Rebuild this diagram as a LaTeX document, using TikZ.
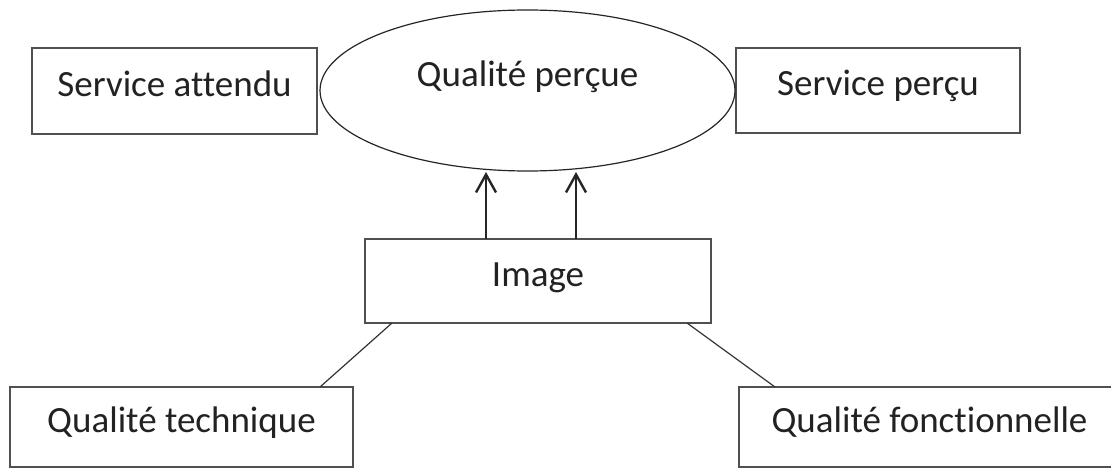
\documentclass[tikz,border=0pt]{standalone}
\usepackage{fontspec}
\setmainfont[Ligatures={NoCommon,NoRare,NoDiscretionary}]{Carlito}
\usetikzlibrary{arrows.meta,shapes.geometric}
\definecolor{boxline}{HTML}{505050}
\definecolor{txt}{HTML}{222222}
\begin{document}
\begin{tikzpicture}[x=1pt,y=-1pt,
  lbl/.style={font=\fontsize{37}{44}\selectfont, text=txt},
  boxnode/.style={lbl, draw=boxline, line width=2pt, rectangle, inner sep=0pt, outer sep=0pt,
    text height=30pt, text depth=19pt, align=center},
  ovalnode/.style={lbl, draw=black!85, line width=1.2pt, ellipse, inner sep=0pt, outer sep=0pt,
    minimum width=415pt, minimum height=161pt, text height=20pt, text depth=27pt},
  uparrow/.style={line width=2.4pt, draw=black!85, -{Straight Barb[length=18pt,width=20pt,line width=2.4pt]}},
  link/.style={line width=1.2pt, draw=black!80}]
\useasboundingbox (0,0) rectangle (1111,468);
\fill[white] (0,0) rectangle (1111,468);
\node[boxnode, minimum width=285pt, minimum height=86pt] (sa) at (174.5,91) {Service attendu};
\node[boxnode, minimum width=284pt, minimum height=85pt] (sp) at (878,90.5) {Service perçu};
\node[ovalnode] (qp) at (527.5,90.5) {Qualité perçue};
\node[boxnode, minimum width=346pt, minimum height=84pt] (img) at (538,281) {Image};
\node[boxnode, minimum width=343pt, minimum height=80pt] (qt) at (181.5,427) {Qualité technique};
\node[boxnode, minimum width=381pt, minimum height=80pt] (qf) at (929.5,427) {Qualité fonctionnelle};
\draw[uparrow] ([xshift=121pt]img.north west) -- ++(0,-67);
\draw[uparrow] ([xshift=211pt]img.north west) -- ++(0,-67);
\draw[link] ([xshift=27pt]img.south west) -- ([xshift=310pt]qt.north west);
\draw[link] ([xshift=-24pt]img.south east) -- ([xshift=36pt]qf.north west);
\end{tikzpicture}
\end{document}
